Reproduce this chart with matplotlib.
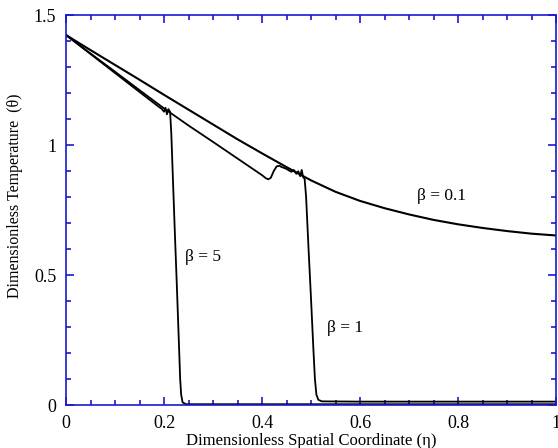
import numpy as np
import matplotlib
matplotlib.use('Agg')
import matplotlib.pyplot as plt
from matplotlib.ticker import MultipleLocator

plt.rcParams['font.family'] = ['Liberation Serif', 'DejaVu Serif']

# beta = 0.1
eta_b01 = [0.0, 0.05, 0.1, 0.15, 0.2, 0.25, 0.3, 0.35, 0.4, 0.45, 0.5,
           0.55, 0.6, 0.65, 0.7, 0.75, 0.8, 0.85, 0.9, 0.95, 1.0]
theta_b01 = [1.423, 1.365, 1.308, 1.251, 1.193, 1.136, 1.079, 1.022, 0.968, 0.915, 0.864,
             0.820, 0.785, 0.757, 0.733, 0.712, 0.695, 0.681, 0.669, 0.659, 0.652]

# beta = 1
eta_b1 = [0.0, 0.05, 0.1, 0.15, 0.2, 0.25, 0.3, 0.35, 0.4, 0.408, 0.413, 0.418,
          0.424, 0.43, 0.436, 0.44, 0.445, 0.45, 0.455, 0.46, 0.465, 0.47,
          0.474, 0.478, 0.481, 0.484, 0.487, 0.49, 0.495, 0.5, 0.505, 0.508,
          0.511, 0.515, 0.522, 0.6, 0.8, 1.0]
theta_b1 = [1.423, 1.352, 1.282, 1.211, 1.141, 1.075, 1.012, 0.948, 0.884, 0.872, 0.868, 0.874,
            0.900, 0.918, 0.920, 0.915, 0.912, 0.908, 0.902, 0.897, 0.904, 0.889,
            0.899, 0.880, 0.904, 0.876, 0.870, 0.80, 0.60, 0.41, 0.21, 0.10,
            0.04, 0.02, 0.014, 0.013, 0.013, 0.013]

# beta = 5
eta_b5 = [0.0, 0.05, 0.1, 0.15, 0.19, 0.195, 0.2, 0.203, 0.206, 0.209, 0.2125,
          0.215, 0.218, 0.222, 0.226, 0.23, 0.233, 0.235, 0.238, 0.245, 0.3, 0.6, 1.0]
theta_b5 = [1.423, 1.350, 1.277, 1.204, 1.146, 1.140, 1.128, 1.143, 1.118, 1.138, 1.127,
            1.04, 0.88, 0.67, 0.47, 0.26, 0.10, 0.04, 0.01, 0.003, 0.003, 0.003, 0.003]

blue = '#1a1ad0'

fig = plt.figure(figsize=(5.58, 4.48), dpi=100)
ax = fig.add_axes([66/558, 43/448, 490/558, 390/448])

ax.plot(eta_b01, theta_b01, color='black', lw=1.5)
ax.plot(eta_b1, theta_b1, color='black', lw=1.3)
ax.plot(eta_b5, theta_b5, color='black', lw=1.3)

ax.text(0.767, 0.802, 'β = 0.1', fontsize=12.5, ha='center', va='center')
ax.text(0.280, 0.57, 'β = 5', fontsize=12.5, ha='center', va='center')
ax.text(0.570, 0.298, 'β = 1', fontsize=12.5, ha='center', va='center')

ax.set_xlim(0, 1)
ax.set_ylim(0, 1.5)
ax.xaxis.set_minor_locator(MultipleLocator(0.05))
ax.yaxis.set_minor_locator(MultipleLocator(0.1))
ax.set_xticks([0, 0.2, 0.4, 0.6, 0.8, 1.0])
ax.set_xticklabels(['0', '0.2', '0.4', '0.6', '0.8', '1'])
ax.set_yticks([0, 0.5, 1.0, 1.5])
ax.set_yticklabels(['0', '0.5', '1', '1.5'])

for sp in ax.spines.values():
    sp.set_color(blue)
    sp.set_linewidth(1.2)
ax.tick_params(which='both', direction='in', top=True, right=True, color=blue, width=1.2,
               labelsize=13)
ax.tick_params(which='major', length=6, pad=7)
ax.tick_params(which='minor', length=3.5)

ax.set_xlabel('Dimensionless Spatial Coordinate (η)', fontsize=12, labelpad=1)
ax.set_ylabel('Dimensionless Temperature  (θ)', fontsize=11.5)
ax.yaxis.set_label_coords(-0.088, 0.536)

fig.savefig('out.png', dpi=100)
